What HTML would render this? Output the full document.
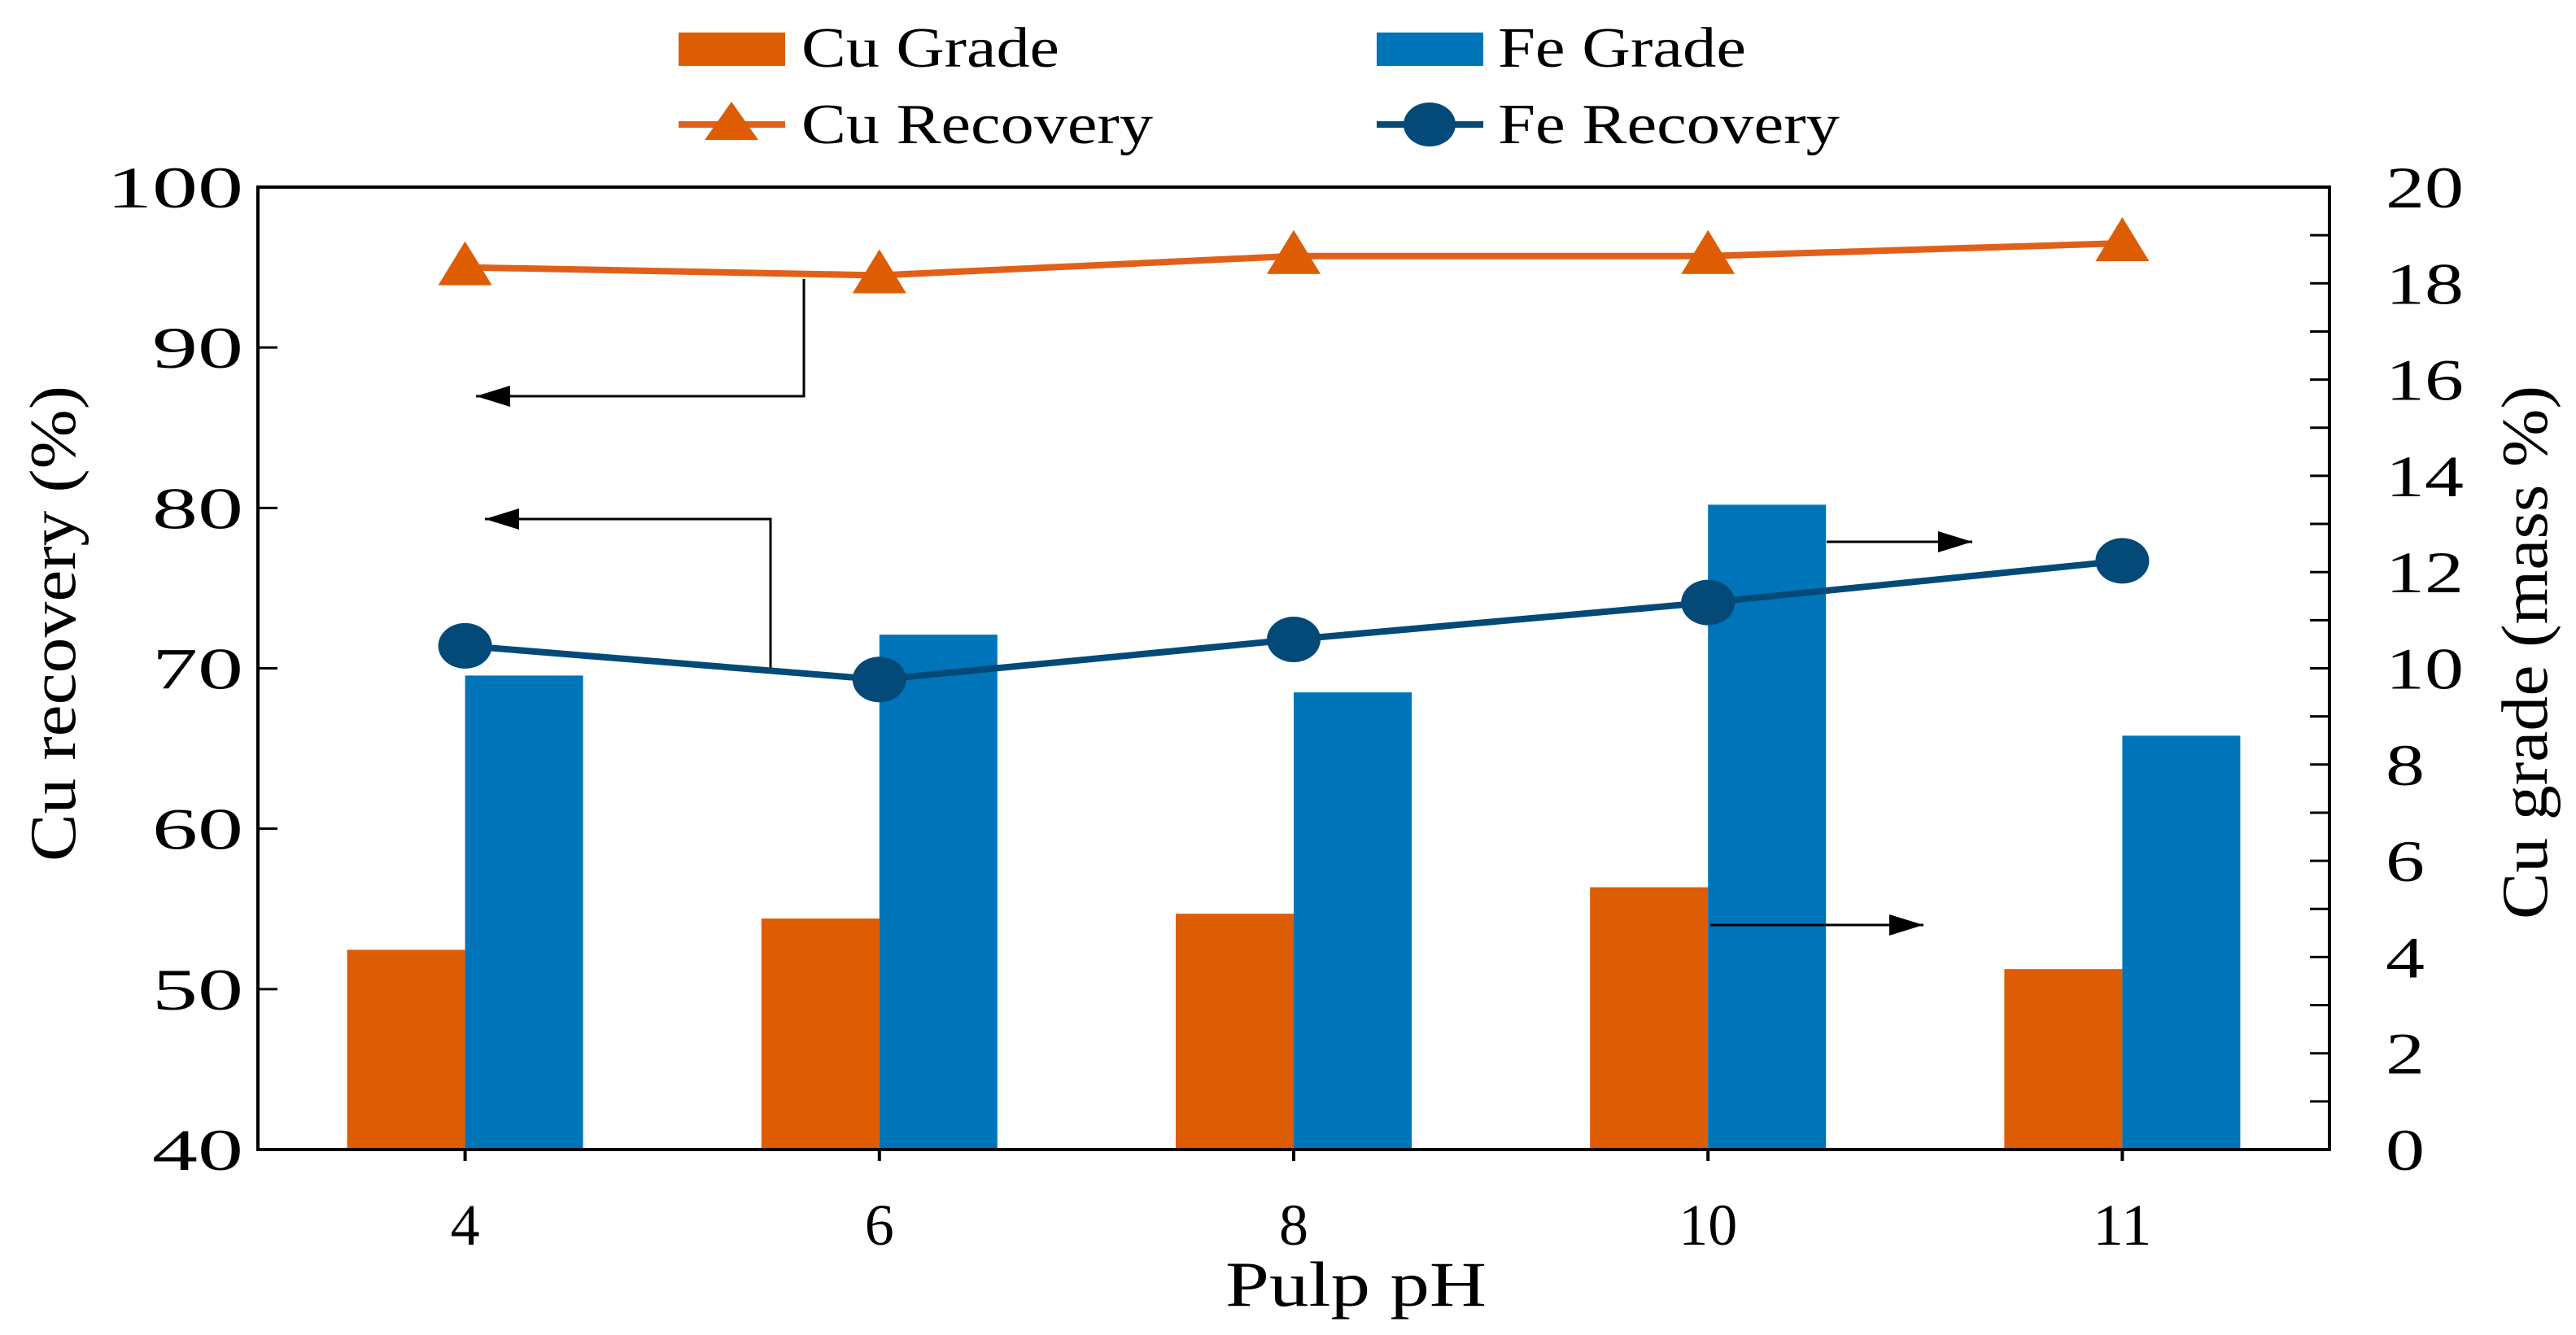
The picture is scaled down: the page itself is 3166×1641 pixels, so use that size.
<!DOCTYPE html>
<html><head><meta charset="utf-8"><style>
html,body{margin:0;padding:0;background:#fff;}
svg{display:block;font-family:"Liberation Serif",serif;}
</style></head><body>
<svg id="chart" width="3166" height="1641" viewBox="0 0 3166 1641" xmlns="http://www.w3.org/2000/svg">
<g id="legend">
  <rect x="834" y="40" width="131" height="41" fill="#DD5C04"/>
  <text x="985" y="82" font-size="70" textLength="317" lengthAdjust="spacingAndGlyphs">Cu Grade</text>
  <rect x="1692" y="40" width="131" height="41" fill="#0074B8"/>
  <text x="1841" y="82" font-size="70" textLength="305" lengthAdjust="spacingAndGlyphs">Fe Grade</text>
  <line x1="834" y1="153" x2="965" y2="153" stroke="#E0601A" stroke-width="8"/>
  <polygon points="899,125 932,172 866,172" fill="#DD5C04"/>
  <text x="985" y="176" font-size="70" textLength="432" lengthAdjust="spacingAndGlyphs">Cu Recovery</text>
  <line x1="1692" y1="153" x2="1823" y2="153" stroke="#034A78" stroke-width="8"/>
  <ellipse cx="1757" cy="153" rx="32" ry="27" fill="#034A78"/>
  <text x="1841" y="176" font-size="70" textLength="420" lengthAdjust="spacingAndGlyphs">Fe Recovery</text>
</g>
<g id="plot"></g>
</svg>
<script>
const categories = ["4","6","8","10","11"];
const cuGrade = [4.15, 4.8, 4.9, 5.45, 3.75];
const feGrade = [9.85, 10.7, 9.5, 13.4, 8.6];
const cuRecovery = [95.0, 94.5, 95.7, 95.7, 96.5];
const feRecovery = [71.4, 69.3, 71.8, 74.1, 76.7];
const leftTicks = [40,50,60,70,80,90,100];
const rightTicks = [0,2,4,6,8,10,12,14,16,18,20];

const NS="http://www.w3.org/2000/svg";
const g=document.getElementById('plot');
const L=317,R=2863,T=230,B=1413;
const band=(R-L)/categories.length;
const xC=i=>L+band*(i+0.5);
const yL=v=>B-(v-40)/60*(B-T);
const yR=v=>B-v/20*(B-T);
function mk(tag,attrs){const e=document.createElementNS(NS,tag);for(const k in attrs)e.setAttribute(k,attrs[k]);g.appendChild(e);return e;}
const barW=145;
categories.forEach((c,i)=>{
  let e=mk('rect',{x:xC(i)-barW,y:yR(cuGrade[i]),width:barW,height:B-yR(cuGrade[i]),fill:'#DD5C04'});
  
  
  e=mk('rect',{x:xC(i),y:yR(feGrade[i]),width:barW,height:B-yR(feGrade[i]),fill:'#0074B8'});
  
  
});
function arrow(pts,name){
  const e=mk('polyline',{points:pts.map(p=>p.join(',')).join(' '),fill:'none',stroke:'#000','stroke-width':3});
  
  
  const [x2,y2]=pts[pts.length-1],[x1,y1]=pts[pts.length-2];
  const d=Math.sign(x2-x1);
  const h=mk('polygon',{points:`${x2},${y2} ${x2-d*42},${y2-13} ${x2-d*42},${y2+13}`,fill:'#000'});
  
  
}
arrow([[988,343],[988,487],[585,487]],'arrow-cu-recovery');
arrow([[947,824],[947,638],[596,638]],'arrow-fe-recovery');
arrow([[2245,666],[2424,666]],'arrow-fe-grade');
arrow([[2102,1137],[2364,1137]],'arrow-cu-grade');
let e=mk('polyline',{points:cuRecovery.map((v,i)=>xC(i)+','+yL(v)).join(' '),fill:'none',stroke:'#E0601A','stroke-width':8});


e=mk('polyline',{points:feRecovery.map((v,i)=>xC(i)+','+yL(v)).join(' '),fill:'none',stroke:'#034A78','stroke-width':8});


categories.forEach((c,i)=>{
  const x=xC(i),y=yL(cuRecovery[i]);
  let m=mk('polygon',{points:`${x},${y-32} ${x+33},${y+22} ${x-33},${y+22}`,fill:'#DD5C04'});
  
  
  m=mk('ellipse',{cx:x,cy:yL(feRecovery[i]),rx:33,ry:28,fill:'#034A78'});
  
  
});
e=mk('rect',{x:L,y:T,width:R-L,height:B-T,fill:'none',stroke:'#000','stroke-width':4});


function txt(s,attrs,w){const t=mk('text',attrs);t.textContent=s;t.setAttribute('textLength',w);t.setAttribute('lengthAdjust','spacingAndGlyphs');return t;}
leftTicks.forEach(v=>{
  const y=yL(v);
  let t=mk('line',{x1:L,y1:y,x2:L+24,y2:y,stroke:'#000','stroke-width':3});
  
  
  const w=String(v).length*56;
  t=txt(String(v),{x:299-w,y:y+25,'font-size':72},w);
  
  
});
for(let v=1;v<20;v++){
  const t=mk('line',{x1:R-24,y1:yR(v),x2:R,y2:yR(v),stroke:'#000','stroke-width':3});
  
  
}
rightTicks.forEach(v=>{
  const w=String(v).length*48;
  const t=txt(String(v),{x:2932,y:yR(v)+25,'font-size':72},w);
  
  
});
categories.forEach((c,i)=>{
  let t=mk('line',{x1:xC(i),y1:B,x2:xC(i),y2:B+14,stroke:'#000','stroke-width':4});
  
  
  const w=c.length*36;
  t=txt(c,{x:xC(i)-w/2,y:1530,'font-size':72},w);
  
  
});
let t=txt('Pulp pH',{x:1506,y:1605,'font-size':78},321);


t=txt('Cu recovery (%)',{x:-292,y:0,'font-size':80,transform:'translate(92,767) rotate(-90)'},585);


t=txt('Cu grade (mass %)',{x:-328,y:0,'font-size':80,transform:'translate(3130,802) rotate(-90)'},656);


</script>
</body></html>
